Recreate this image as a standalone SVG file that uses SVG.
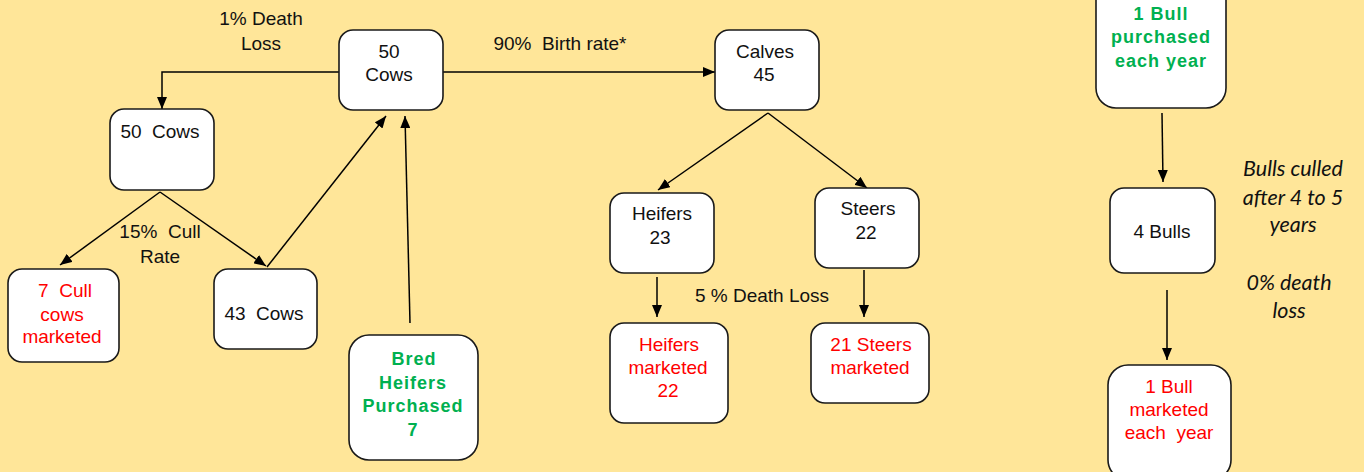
<svg xmlns="http://www.w3.org/2000/svg" width="1364" height="472" viewBox="0 0 1364 472">
<style>
.bg{fill:#FFE699}
.box{fill:#fff;stroke:#1a1a1a;stroke-width:1.6}
.t{font-family:"Liberation Sans",Arial,sans-serif;font-size:19px;fill:#111;text-anchor:middle}
.r{fill:#FF0000}
.g{fill:#00B050;font-weight:bold;letter-spacing:1px;font-size:18px}
.it{font-family:Lato,"Open Sans",sans-serif;font-style:italic;font-size:21.5px;fill:#111;text-anchor:middle}
.c{fill:none;stroke:#000;stroke-width:1.5}
</style>
<defs>
<marker id="ah" viewBox="0 0 12 10" refX="12" refY="5" markerWidth="12" markerHeight="10" markerUnits="userSpaceOnUse" orient="auto">
<path d="M0,0 L12,5 L0,10 Z" fill="#000"/>
</marker>
</defs>
<rect class="bg" x="0" y="0" width="1364" height="472"/>

<g id="connectors">
<path class="c" d="M339,72 H162 V109" marker-end="url(#ah)"/>
<path class="c" d="M443,72 H715" marker-end="url(#ah)"/>
<path class="c" d="M160,192 L60,265" marker-end="url(#ah)"/>
<path class="c" d="M160,192 L266,266" marker-end="url(#ah)"/>
<path class="c" d="M267,267 L386,116" marker-end="url(#ah)"/>
<path class="c" d="M410,323 L405,116" marker-end="url(#ah)"/>
<path class="c" d="M768,113 L658,190" marker-end="url(#ah)"/>
<path class="c" d="M768,113 L867,188" marker-end="url(#ah)"/>
<path class="c" d="M657,277 V317" marker-end="url(#ah)"/>
<path class="c" d="M864,270 V317" marker-end="url(#ah)"/>
<path class="c" d="M1162,113 L1163,182" marker-end="url(#ah)"/>
<path class="c" d="M1167,290 V360" marker-end="url(#ah)"/>
</g>

<g id="labels">
<text class="t" x="261" y="25">1% Death</text>
<text class="t" x="261" y="50">Loss</text>
<text class="t" x="560" y="50" xml:space="preserve">90%  Birth rate*</text>
<text class="t" x="160" y="238" xml:space="preserve">15%  Cull</text>
<text class="t" x="160" y="263">Rate</text>
<text class="t" x="762" y="302">5 % Death Loss</text>
<text class="it" x="1293" y="176">Bulls culled</text>
<text class="it" x="1293" y="205">after 4 to 5</text>
<text class="it" x="1293" y="232">years</text>
<text class="it" x="1289" y="290">0% death</text>
<text class="it" x="1289" y="318">loss</text>
</g>

<g id="cows50top">
<rect class="box" x="339" y="30" width="104" height="80" rx="14"/>
<text class="t" x="389" y="58">50</text>
<text class="t" x="389" y="81">Cows</text>
</g>
<g id="cows50left">
<rect class="box" x="110" y="109" width="104" height="81" rx="14"/>
<text class="t" x="160" y="138" xml:space="preserve">50  Cows</text>
</g>
<g id="cull">
<rect class="box" x="8" y="269" width="111" height="93" rx="14"/>
<text class="t r" x="65" y="297" xml:space="preserve">7  Cull</text>
<text class="t r" x="62" y="321">cows</text>
<text class="t r" x="62" y="343">marketed</text>
</g>
<g id="cows43">
<rect class="box" x="214" y="269" width="103" height="80" rx="14"/>
<text class="t" x="264" y="320" xml:space="preserve">43  Cows</text>
</g>
<g id="bredheifers">
<rect class="box" x="349" y="335" width="129" height="125" rx="20"/>
<text class="t g" x="414" y="365">Bred</text>
<text class="t g" x="413" y="389">Heifers</text>
<text class="t g" x="413" y="412">Purchased</text>
<text class="t g" x="413" y="436">7</text>
</g>
<g id="calves">
<rect class="box" x="715" y="30" width="104" height="80" rx="14"/>
<text class="t" x="765" y="58">Calves</text>
<text class="t" x="764" y="81">45</text>
</g>
<g id="heifers">
<rect class="box" x="610" y="193" width="104" height="80" rx="14"/>
<text class="t" x="662" y="220">Heifers</text>
<text class="t" x="660" y="244">23</text>
</g>
<g id="steers">
<rect class="box" x="815" y="188" width="104" height="80" rx="14"/>
<text class="t" x="868" y="215">Steers</text>
<text class="t" x="866" y="239">22</text>
</g>
<g id="heifersmarketed">
<rect class="box" x="610" y="323" width="118" height="100" rx="14"/>
<text class="t r" x="669" y="351">Heifers</text>
<text class="t r" x="668" y="374">marketed</text>
<text class="t r" x="668" y="397">22</text>
</g>
<g id="steersmarketed">
<rect class="box" x="811" y="323" width="118" height="80" rx="14"/>
<text class="t r" x="871" y="351">21 Steers</text>
<text class="t r" x="870" y="374">marketed</text>
</g>
<g id="bullpurchased">
<rect class="box" x="1096" y="-20" width="130" height="128" rx="20"/>
<text class="t g" x="1161" y="20">1 Bull</text>
<text class="t g" x="1161" y="43">purchased</text>
<text class="t g" x="1161" y="67">each year</text>
</g>
<g id="bulls4">
<rect class="box" x="1110" y="188" width="105" height="85" rx="14"/>
<text class="t" x="1162" y="238">4 Bulls</text>
</g>
<g id="bullmarketed">
<rect class="box" x="1108" y="365" width="123" height="115" rx="20"/>
<text class="t r" x="1169" y="393">1 Bull</text>
<text class="t r" x="1169" y="416">marketed</text>
<text class="t r" x="1169" y="439" xml:space="preserve">each  year</text>
</g>
</svg>
